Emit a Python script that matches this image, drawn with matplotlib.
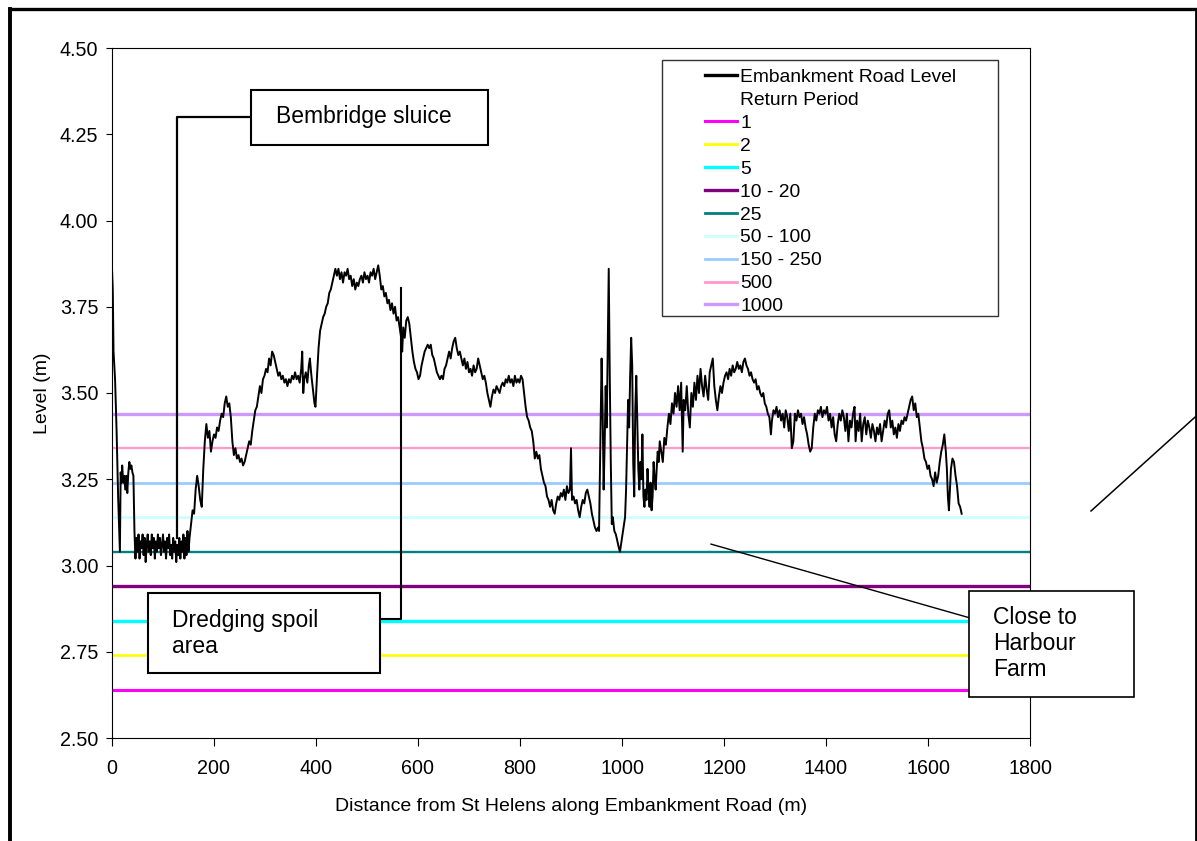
import matplotlib
matplotlib.use("Agg")
import matplotlib.pyplot as plt
from matplotlib.lines import Line2D
from matplotlib.patches import Rectangle

plt.rcParams["font.family"] = ["Liberation Sans", "DejaVu Sans"]

# Surveyed crest level of Embankment Road: (distance from St Helens in m, level in m)
road_profile = [
    (0, 3.86), (1.5, 3.80), (3, 3.62), (6, 3.54), (9, 3.39), (12, 3.20), (15.5, 3.04),
    (17, 3.27), (18.5, 3.24), (20, 3.29), (22, 3.24), (24, 3.26), (26, 3.22), (28, 3.26),
    (30, 3.21), (32, 3.27), (34, 3.30), (36, 3.28), (38, 3.29), (40, 3.27), (42, 3.26),
    (44, 3.10), (46, 3.02),
    (48, 3.08), (50, 3.04), (52, 3.09), (54, 3.02), (56, 3.07), (58, 3.05), (60, 3.09),
    (62, 3.03), (64, 3.08), (66, 3.01), (68, 3.06), (70, 3.09), (72, 3.04), (74, 3.07),
    (76, 3.03), (78, 3.09), (80, 3.05), (82, 3.08), (84, 3.02), (86, 3.07), (88, 3.04),
    (90, 3.09), (92, 3.05), (94, 3.08), (96, 3.03), (98, 3.06), (100, 3.09), (102, 3.04),
    (104, 3.07), (106, 3.02), (108, 3.08), (110, 3.05), (112, 3.09), (114, 3.03),
    (116, 3.06), (118, 3.02), (120, 3.08), (122, 3.04), (124, 3.07), (126, 3.01),
    (128, 3.06), (130, 3.03), (132, 3.08), (134, 3.02), (136, 3.07), (138, 3.04),
    (140, 3.09), (142, 3.02), (144, 3.08), (146, 3.03), (148, 3.10), (150, 3.04),
    (152, 3.08),
    (155, 3.12), (158, 3.16), (161, 3.15), (164, 3.22), (167, 3.26), (170, 3.23),
    (173, 3.19), (176, 3.17), (179, 3.28), (182, 3.36), (185, 3.41), (188, 3.37),
    (191, 3.39), (194, 3.33), (197, 3.36), (200, 3.38), (203, 3.37), (206, 3.40),
    (209, 3.39), (212, 3.42), (215, 3.44), (218, 3.43), (221, 3.47), (224, 3.49),
    (227, 3.46), (230, 3.47), (233, 3.43), (236, 3.36), (239, 3.32), (242, 3.34),
    (245, 3.31), (248, 3.32), (251, 3.30), (254, 3.31), (257, 3.29), (260, 3.30),
    (263, 3.32), (266, 3.34), (269, 3.36), (272, 3.35), (275, 3.39), (278, 3.42),
    (281, 3.45), (284, 3.46), (287, 3.49), (290, 3.52), (293, 3.50), (296, 3.54),
    (299, 3.55), (302, 3.57), (305, 3.56), (308, 3.60), (311, 3.58), (314, 3.62),
    (317, 3.61),
    (320, 3.59), (323, 3.57), (326, 3.55), (329, 3.56), (332, 3.54), (335, 3.55),
    (338, 3.53), (341, 3.54), (344, 3.52), (347, 3.54), (350, 3.53), (353, 3.55),
    (356, 3.54), (359, 3.56), (362, 3.54), (365, 3.55), (368, 3.53), (371, 3.57),
    (373, 3.62), (375, 3.50), (377, 3.54), (380, 3.56), (383, 3.53), (386, 3.58),
    (388, 3.60), (391, 3.55), (394, 3.51), (397, 3.47), (399, 3.46),
    (402, 3.55), (405, 3.63), (408, 3.68), (411, 3.70), (414, 3.72), (417, 3.73),
    (420, 3.75), (423, 3.76), (426, 3.79), (429, 3.80), (432, 3.82), (435, 3.84),
    (438, 3.86), (441, 3.84), (444, 3.86), (447, 3.83), (450, 3.85), (453, 3.82),
    (456, 3.85), (459, 3.84), (462, 3.86), (465, 3.83), (468, 3.84), (471, 3.81),
    (474, 3.83), (477, 3.80), (480, 3.82), (483, 3.81), (486, 3.83), (489, 3.84),
    (492, 3.82), (495, 3.85), (498, 3.83), (501, 3.84), (504, 3.82), (507, 3.85),
    (510, 3.84), (513, 3.86), (516, 3.83), (519, 3.85), (522, 3.87), (525, 3.84),
    (528, 3.80), (531, 3.81), (534, 3.78), (537, 3.79), (540, 3.76),
    (543, 3.77), (546, 3.74), (549, 3.76), (552, 3.73), (555, 3.75), (558, 3.71),
    (561, 3.72), (564, 3.69), (567, 3.66), (569, 3.62), (571, 3.69), (574, 3.66),
    (577, 3.71), (580, 3.72), (583, 3.70), (586, 3.66), (589, 3.62), (592, 3.59),
    (595, 3.57), (598, 3.56), (601, 3.54), (604, 3.55), (607, 3.58), (610, 3.60),
    (613, 3.62), (616, 3.63), (619, 3.64), (622, 3.63), (625, 3.64), (628, 3.61),
    (631, 3.60), (634, 3.58), (637, 3.56), (640, 3.55), (643, 3.54), (646, 3.55),
    (649, 3.54), (652, 3.57), (655, 3.58), (658, 3.60),
    (661, 3.62), (664, 3.60), (667, 3.63), (670, 3.65), (673, 3.66), (676, 3.63),
    (679, 3.61), (682, 3.62), (685, 3.60), (688, 3.58), (691, 3.60), (694, 3.57),
    (697, 3.59), (700, 3.56), (703, 3.57), (706, 3.55), (709, 3.58), (712, 3.56),
    (715, 3.57), (718, 3.60), (721, 3.58), (724, 3.56), (727, 3.54), (730, 3.55),
    (733, 3.53), (736, 3.50), (739, 3.48), (742, 3.46), (745, 3.49), (748, 3.51),
    (751, 3.50), (754, 3.52), (757, 3.51), (760, 3.50), (763, 3.52), (766, 3.53),
    (769, 3.52), (772, 3.54), (775, 3.53), (778, 3.55), (781, 3.53), (784, 3.54),
    (787, 3.52), (790, 3.55), (793, 3.53), (796, 3.54), (799, 3.53), (802, 3.55),
    (805, 3.54), (808, 3.50), (811, 3.46), (814, 3.43), (817, 3.42), (820, 3.40),
    (823, 3.39), (826, 3.36), (829, 3.31), (832, 3.33), (835, 3.31), (838, 3.32),
    (841, 3.28), (844, 3.26), (847, 3.24), (850, 3.23), (853, 3.20), (856, 3.19),
    (859, 3.17), (862, 3.19), (865, 3.16), (868, 3.15), (871, 3.18), (874, 3.20),
    (877, 3.19), (880, 3.21), (883, 3.20), (886, 3.22), (889, 3.19), (892, 3.23),
    (895, 3.21), (898, 3.22), (900, 3.34), (902, 3.19), (905, 3.20), (908, 3.18),
    (911, 3.19), (914, 3.16), (917, 3.14), (920, 3.17), (923, 3.19), (926, 3.18),
    (929, 3.21), (932, 3.22), (935, 3.20), (938, 3.18), (941, 3.15), (944, 3.13),
    (947, 3.11), (950, 3.10), (953, 3.11), (955, 3.10),
    (958, 3.40), (960, 3.60), (962, 3.45), (964, 3.22), (966, 3.35), (968, 3.52),
    (970, 3.40), (972, 3.62), (974, 3.86), (976, 3.55), (978, 3.30), (980, 3.12),
    (982, 3.14), (985, 3.10), (988, 3.09), (991, 3.07), (994, 3.05), (996, 3.04),
    (998, 3.06), (1000, 3.08), (1003, 3.11), (1006, 3.14), (1008, 3.22), (1010, 3.35),
    (1012, 3.48), (1014, 3.40), (1016, 3.55), (1018, 3.66), (1020, 3.58), (1022, 3.30),
    (1024, 3.20), (1026, 3.45), (1028, 3.55), (1030, 3.42), (1032, 3.28), (1034, 3.22),
    (1036, 3.30), (1038, 3.25), (1040, 3.38), (1042, 3.20), (1044, 3.17), (1046, 3.22),
    (1048, 3.19), (1050, 3.28), (1052, 3.22), (1054, 3.17), (1056, 3.24), (1058, 3.16),
    (1060, 3.20), (1062, 3.30), (1064, 3.25),
    (1066, 3.22), (1068, 3.28), (1070, 3.33), (1072, 3.30), (1074, 3.36), (1077, 3.33),
    (1080, 3.30), (1083, 3.37), (1086, 3.35), (1089, 3.40), (1092, 3.44), (1095, 3.41),
    (1098, 3.47), (1101, 3.44), (1104, 3.50), (1107, 3.46), (1110, 3.52), (1113, 3.45),
    (1116, 3.53), (1119, 3.33), (1121, 3.48), (1124, 3.45), (1127, 3.52), (1130, 3.44),
    (1133, 3.40), (1136, 3.50), (1139, 3.46), (1142, 3.53), (1145, 3.48), (1148, 3.55),
    (1151, 3.50), (1154, 3.57), (1157, 3.52), (1160, 3.49), (1163, 3.55), (1166, 3.51),
    (1169, 3.48), (1172, 3.56), (1175, 3.58), (1178, 3.60), (1181, 3.52), (1184, 3.48),
    (1187, 3.45), (1190, 3.49), (1193, 3.52), (1196, 3.50), (1199, 3.53), (1202, 3.55),
    (1205, 3.56), (1208, 3.54), (1211, 3.57), (1214, 3.55), (1217, 3.58), (1220, 3.56),
    (1223, 3.57), (1226, 3.59), (1229, 3.57), (1232, 3.58), (1235, 3.56), (1238, 3.59),
    (1241, 3.60), (1244, 3.58), (1247, 3.57), (1250, 3.55), (1253, 3.56), (1256, 3.54),
    (1259, 3.53), (1262, 3.54), (1265, 3.51), (1268, 3.52), (1271, 3.50), (1274, 3.49),
    (1277, 3.50), (1280, 3.47), (1283, 3.46), (1286, 3.44), (1289, 3.43), (1292, 3.38),
    (1294, 3.42), (1297, 3.45), (1300, 3.44),
    (1303, 3.46), (1306, 3.43), (1309, 3.45), (1312, 3.42), (1315, 3.44), (1318, 3.40),
    (1321, 3.45), (1324, 3.43), (1327, 3.39), (1330, 3.44), (1333, 3.34), (1336, 3.36),
    (1339, 3.44), (1342, 3.42), (1345, 3.45), (1348, 3.43), (1351, 3.44), (1354, 3.41),
    (1357, 3.43), (1360, 3.40), (1363, 3.38), (1366, 3.35), (1369, 3.33), (1372, 3.34),
    (1375, 3.40), (1378, 3.44), (1381, 3.42), (1384, 3.45), (1387, 3.44), (1390, 3.46),
    (1393, 3.43), (1396, 3.45), (1399, 3.44), (1402, 3.46), (1405, 3.42), (1408, 3.44),
    (1411, 3.40), (1414, 3.43), (1417, 3.38), (1420, 3.36), (1423, 3.41), (1426, 3.44),
    (1429, 3.42), (1432, 3.45), (1435, 3.43), (1438, 3.39), (1441, 3.44), (1444, 3.36),
    (1447, 3.42), (1450, 3.40), (1453, 3.44), (1456, 3.46), (1458, 3.36), (1461, 3.42),
    (1464, 3.39), (1467, 3.44), (1470, 3.36), (1473, 3.41), (1476, 3.43), (1479, 3.38),
    (1482, 3.42), (1485, 3.40), (1488, 3.37), (1491, 3.41), (1494, 3.39), (1497, 3.36),
    (1500, 3.40), (1503, 3.38), (1506, 3.41), (1509, 3.36), (1512, 3.39), (1515, 3.42),
    (1518, 3.40), (1521, 3.44), (1524, 3.45), (1527, 3.40), (1530, 3.42), (1533, 3.38),
    (1536, 3.40), (1539, 3.37), (1542, 3.41), (1545, 3.39), (1548, 3.42), (1551, 3.41),
    (1554, 3.43), (1557, 3.42), (1560, 3.44), (1563, 3.46), (1566, 3.48), (1569, 3.49),
    (1572, 3.45), (1575, 3.47), (1578, 3.43), (1581, 3.44), (1584, 3.40), (1587, 3.36),
    (1590, 3.34),
    (1593, 3.31), (1596, 3.30), (1599, 3.28), (1602, 3.29), (1605, 3.26), (1608, 3.25),
    (1611, 3.23), (1614, 3.27), (1617, 3.24), (1620, 3.26), (1623, 3.30), (1626, 3.33),
    (1629, 3.35), (1632, 3.38), (1635, 3.33), (1637, 3.28), (1639, 3.20), (1641, 3.16),
    (1643, 3.22), (1645, 3.28), (1648, 3.31), (1651, 3.30), (1654, 3.26), (1657, 3.23),
    (1660, 3.18), (1663, 3.17), (1666, 3.15),
]
road_distance = [d for d, _ in road_profile]
road_level = [z for _, z in road_profile]

# Still-water flood levels for each return period (years)
return_periods = ["1", "2", "5", "10 - 20", "25", "50 - 100", "150 - 250", "500", "1000"]
flood_levels = [2.64, 2.74, 2.84, 2.94, 3.04, 3.14, 3.24, 3.34, 3.44]
period_colors = ["#FF00FF", "#FFFF00", "#00FFFF", "#800080", "#008080",
                 "#CCFFFF", "#99CCFF", "#FF99CC", "#CC99FF"]
period_widths = [2.2, 1.9, 2.4, 2.4, 1.7, 2.0, 2.0, 1.6, 2.4]

x_ticks = [0, 200, 400, 600, 800, 1000, 1200, 1400, 1600, 1800]
y_ticks = [2.50, 2.75, 3.00, 3.25, 3.50, 3.75, 4.00, 4.25, 4.50]

W, H = 1197, 841
fig = plt.figure(figsize=(W / 100, H / 100), dpi=100)
fig.patch.set_facecolor("white")
ax = fig.add_axes([112 / W, 1 - 738 / H, (1030 - 112) / W, (738 - 48) / H])

# Return-period flood levels
for lvl, col, lw in zip(flood_levels, period_colors, period_widths):
    ax.axhline(lvl, color=col, lw=lw, zorder=2, solid_capstyle="butt")

# Road crest profile
ax.plot(road_distance, road_level, color="black", lw=1.4, zorder=3)

ax.set_xlim(x_ticks[0], x_ticks[-1])
ax.set_ylim(y_ticks[0], y_ticks[-1])
ax.set_xticks(x_ticks)
ax.set_yticks(y_ticks)
ax.set_yticklabels([f"{v:.2f}" for v in y_ticks])
ax.set_xticklabels([str(v) for v in x_ticks])
ax.tick_params(axis="y", direction="out", length=4.3, width=0.8, pad=5.5,
               labelsize=14.2, colors="black")
ax.tick_params(axis="x", direction="out", length=5.8, width=0.8, pad=9,
               labelsize=14.2, colors="black")
for sp in ax.spines.values():
    sp.set_linewidth(0.8)
    sp.set_color("black")

ax.set_ylabel("Level (m)", fontsize=14, va="center")
ax.yaxis.set_label_coords(-0.076, 0.5)
ax.set_xlabel("Distance from St Helens along Embankment Road (m)", fontsize=14, va="center")
ax.xaxis.set_label_coords(0.5, -0.0986)

# Legend with its own frame
frame = Rectangle((662 / W, 1 - 316 / H), 336 / W, 256 / H, transform=fig.transFigure,
                  facecolor="white", edgecolor="#333333", lw=1.0, zorder=5, clip_on=False)
ax.add_patch(frame)
handles = [Line2D([], [], color="black", lw=2.4),
           Line2D([], [], color="none")]
handles += [Line2D([], [], color=c, lw=max(w, 2.0)) for c, w in zip(period_colors, period_widths)]
labels = ["Embankment Road Level", "Return Period"] + return_periods
leg = ax.legend(handles, labels, loc="upper left", bbox_to_anchor=(705 / W, 1 - 68.5 / H),
                bbox_transform=fig.transFigure, frameon=False, fontsize=13.9,
                handlelength=1.66, handletextpad=0.16, labelspacing=0.28,
                borderpad=0, borderaxespad=0)
leg.set_zorder(6)

# Callouts
box_kw = dict(facecolor="white", edgecolor="black", clip_on=False, zorder=7)
ax.add_patch(Rectangle((272.5, 4.219), 464.5, 0.159, lw=1.5, **box_kw))
ax.plot([272.5, 128, 128], [4.30, 4.30, 3.08], color="black", lw=1.6, zorder=5)
ax.text(321.6, 4.282, "Bembridge sluice", fontsize=16.5, va="baseline", ha="left", zorder=8)

ax.add_patch(Rectangle((70.6, 2.688), 454.9, 0.232, lw=1.5, **box_kw))
ax.plot([525.5, 566.7, 566.7], [2.845, 2.845, 3.804], color="black", lw=1.5, zorder=5)
ax.text(117.6, 2.875, "Dredging spoil\narea", fontsize=16.5, va="top", ha="left",
        linespacing=1.17, zorder=8)

ax.add_patch(Rectangle((1680, 2.619), 324, 0.307, lw=1.2, **box_kw))
ax.plot([1174.5, 1680], [3.062, 2.849], color="black", lw=1.0, zorder=5, clip_on=False)
ax.text(1727.5, 2.883, "Close to\nHarbour\nFarm", fontsize=16.5, va="top", ha="left",
        linespacing=1.17, zorder=8)

ax.plot([1919.6, 2123.5], [3.158, 3.430], color="black", lw=1.1, clip_on=False, zorder=5)

# Page border
fig.add_artist(Line2D([9.5 / W, 9.5 / W], [-0.01, 1 - 9 / H], transform=fig.transFigure,
                      color="black", lw=2.8))
fig.add_artist(Line2D([9.5 / W, 1195.5 / W], [1 - 9 / H, 1 - 9 / H], transform=fig.transFigure,
                      color="black", lw=2.4))
fig.add_artist(Line2D([1195.5 / W, 1195.5 / W], [-0.01, 1 - 9 / H], transform=fig.transFigure,
                      color="black", lw=2.0))

fig.savefig("out.png", dpi=100)
